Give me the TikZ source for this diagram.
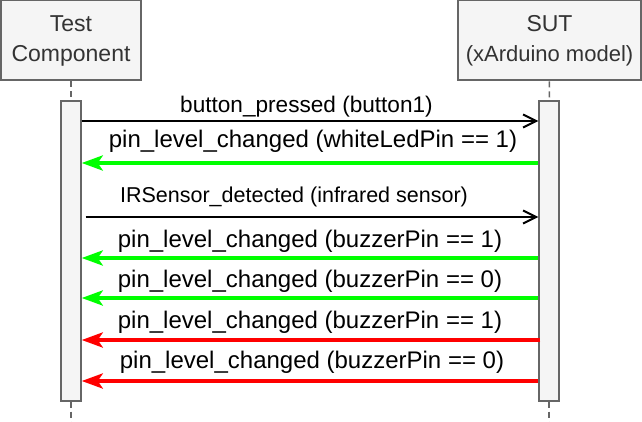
\documentclass[tikz,border=0pt]{standalone}
\usepackage{fontspec}
\setmainfont{Liberation Sans}
\usetikzlibrary{arrows.meta}

\definecolor{boxfill}{HTML}{F5F5F5}
\definecolor{boxline}{HTML}{666666}
\definecolor{boxtext}{HTML}{333333}
\definecolor{okgreen}{HTML}{00FF00}
\definecolor{badred}{HTML}{FF0000}

\begin{document}
\begin{tikzpicture}[x=1pt, y=-1pt,
  actor/.style={draw=boxline, fill=boxfill, line width=2pt, text=boxtext,
    align=center, inner sep=0pt, minimum height=80pt,
    font=\fontsize{23}{30}\selectfont},
  activity/.style={draw=boxline, fill=boxfill, line width=1.4pt,
    minimum width=20pt, minimum height=300pt, inner sep=0pt},
  lifeline/.style={draw=boxline, line width=1.6pt, dash pattern=on 6pt off 4pt},
  call/.style={line width=2pt, -{Straight Barb[length=13pt,width=13pt]}},
  reply/.style={line width=4pt, -{Stealth[length=21pt,width=15pt,inset=5pt]}},
  msg/.style={anchor=base, inner sep=0pt, font=\fontsize{24}{28}\selectfont}]
\useasboundingbox (0,0) rectangle (642,422);

% participants
\node[actor, minimum width=140pt] (tc) at (71,40.5) {Test\\Component};
\node[actor, minimum width=183pt] (sut) at (549.5,40.5)
  {SUT\\{\fontsize{22}{30}\selectfont(xArduino model)}};

\coordinate (tcEnd) at (71,422);
\coordinate (sutEnd) at (549,422);
\node[activity, draw=none, fill=none] (tcAct) at (71,251) {};
\node[activity, draw=none, fill=none] (sutAct) at (549,251) {};
\draw[lifeline] (tc) -- (tcAct);
\draw[lifeline] (tcAct) -- (tcEnd);
\draw[lifeline] (sut) -- (sutAct);
\draw[lifeline] (sutAct) -- (sutEnd);
\node[activity] at (tcAct) {};
\node[activity] at (sutAct) {};

% messages
\draw[call] (tcAct.east |- 0,121) -- (sutAct.west |- 0,121);
\node[msg, font=\fontsize{22.6}{28}\selectfont] (m1) at (306.5,113) {button\_pressed (button1)};

\draw[reply, okgreen] (sutAct.west |- 0,163) -- (tcAct.east |- 0,163);
\node[msg] (m2) at (313,148) {pin\_level\_changed (whiteLedPin == 1)};

\draw[call] ([xshift=4pt]tcAct.east |- 0,217) -- (sutAct.west |- 0,217);
\node[msg, font=\fontsize{21.5}{28}\selectfont] (m3) at (294,203) {IRSensor\_detected (infrared sensor)};

\draw[reply, okgreen] (sutAct.west |- 0,258) -- (tcAct.east |- 0,258);
\node[msg] (m4) at (310,247) {pin\_level\_changed (buzzerPin == 1)};

\draw[reply, okgreen] (sutAct.west |- 0,298) -- (tcAct.east |- 0,298);
\node[msg] (m5) at (310,287) {pin\_level\_changed (buzzerPin == 0)};

\draw[reply, badred] ([xshift=2pt]sutAct.west |- 0,340) -- (tcAct.east |- 0,340);
\node[msg] (m6) at (310,328) {pin\_level\_changed (buzzerPin == 1)};

\draw[reply, badred] (sutAct.west |- 0,381) -- (tcAct.east |- 0,381);
\node[msg] (m7) at (312,368) {pin\_level\_changed (buzzerPin == 0)};
\end{tikzpicture}
\end{document}
